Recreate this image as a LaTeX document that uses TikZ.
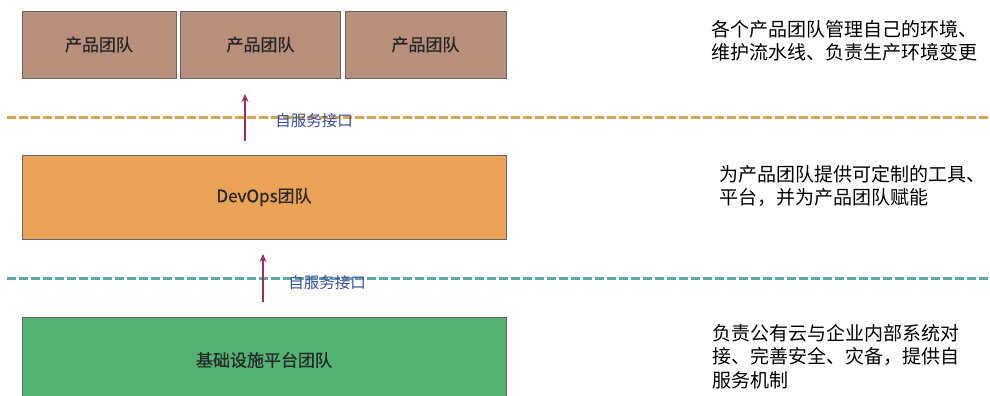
\documentclass[tikz,border=0pt]{standalone}
\usepackage{fontspec}
\setmainfont{Noto Sans CJK SC}
\newfontfamily\boxfont[FakeBold=0.7]{Noto Sans CJK SC}
\usetikzlibrary{arrows.meta}
\definecolor{prodc}{RGB}{183,143,122}
\definecolor{devc}{RGB}{234,163,86}
\definecolor{infc}{RGB}{82,178,114}
\definecolor{orgdash}{RGB}{214,165,82}
\definecolor{tealdash}{RGB}{92,168,170}
\definecolor{arrc}{RGB}{160,45,90}
\definecolor{labc}{RGB}{58,78,160}
\begin{document}
\begin{tikzpicture}[x=1pt,y=-1pt,
  box/.style={draw=black!60, line width=0.9pt, inner sep=0pt, font=\boxfont\fontsize{17}{20}\selectfont, text=black!85},
  sep/.style={line width=3pt, dash pattern=on 9pt off 3pt},
  up/.style={draw=arrc, line width=1.8pt, -{Stealth[length=8pt,width=7pt]}},
  lab/.style={text=labc, font=\fontsize{15.5}{18}\selectfont, inner sep=0pt},
  note/.style={align=left, anchor=north west, inner sep=0pt, text=black, font=\fontsize{19}{23.5}\selectfont}]
\clip (0,0) rectangle (990,396);
\fill[white] (0,0) rectangle (990,396);
% product teams
\node[box, fill=prodc, minimum width=154pt, minimum height=67pt] (p1) at (99,44.5) {产品团队};
\node[box, fill=prodc, minimum width=160pt, minimum height=67pt] (p2) at (260.5,44.5) {产品团队};
\node[box, fill=prodc, minimum width=161pt, minimum height=67pt] (p3) at (425.5,44.5) {产品团队};
% devops
\node[box, fill=devc, minimum width=484pt, minimum height=84pt] (dev) at (264,197) {DevOps团队};
% infra
\node[box, fill=infc, minimum width=484pt, minimum height=100pt] (inf) at (264,367) {};
\node[box, draw=none, fill=none] (inftxt) at (264,360) {基础设施平台团队};
% separators
\coordinate (s1a) at (7,117);
\coordinate (s1b) at (990,117);
\coordinate (s2a) at (7,278);
\coordinate (s2b) at (990,278);
\draw[sep, draw=orgdash] (s1a) -- (s1b);
\draw[sep, draw=tealdash] (s2a) -- (s2b);
% arrows
\coordinate (a1s) at (245,141);
\coordinate (a1e) at (245,94);
\coordinate (a2s) at (263,302);
\coordinate (a2e) at (263,254);
\draw[up] (a1s) -- (a1e);
\draw[up] (a2s) -- (a2e);
\node[lab] (l1) at (314,121) {自服务接口};
\node[lab] (l2) at (327,283) {自服务接口};
% notes
\node[note] (n1) at (711,20) {各个产品团队管理自己的环境、\\维护流水线、负责生产环境变更};
\node[note] (n2) at (719,165) {为产品团队提供可定制的工具、\\平台，并为产品团队赋能};
\node[note] (n3) at (712,324) {负责公有云与企业内部系统对\\接、完善安全、灾备，提供自\\服务机制};
\end{tikzpicture}
\end{document}
